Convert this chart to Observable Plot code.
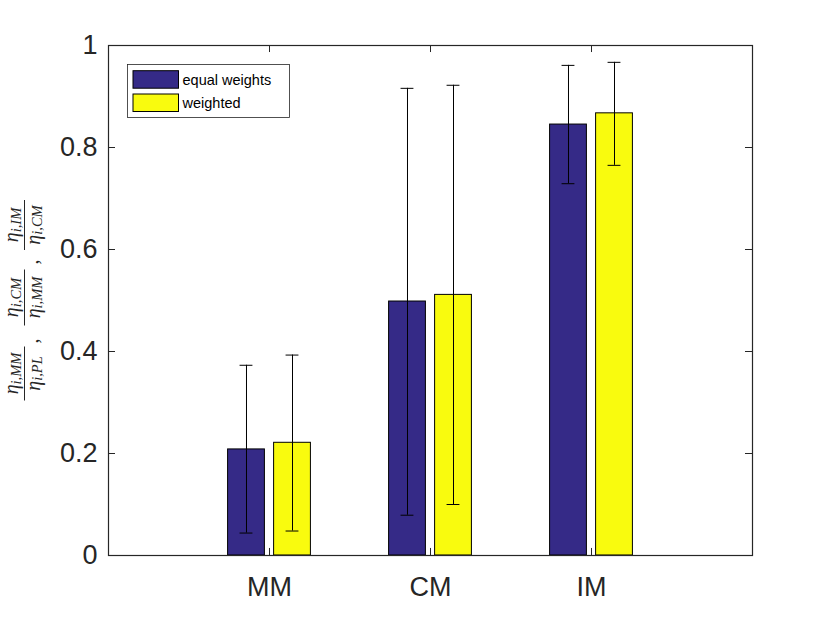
<!DOCTYPE html>
<html>
<head>
<meta charset="utf-8">
<script src="https://cdn.jsdelivr.net/npm/d3@7"></script>
<script src="https://cdn.jsdelivr.net/npm/@observablehq/plot@0.6"></script>
<style>
  html, body { margin: 0; padding: 0; background: #fff; }
</style>
</head>
<body>
<div id="chart"></div>
<script>
const categories = ["MM", "CM", "IM"];
const seriesNames = ["equal weights", "weighted"];
const seriesColors = ["#352a87", "#f9fb0e"];
const equalMean = [0.208, 0.498, 0.845];
const equalLow = [0.044, 0.079, 0.729];
const equalHigh = [0.373, 0.916, 0.961];
const weightedMean = [0.221, 0.511, 0.867];
const weightedLow = [0.048, 0.100, 0.765];
const weightedHigh = [0.393, 0.922, 0.967];
const yTicks = [0, 0.2, 0.4, 0.6, 0.8, 1];
const xDomain = [0, 4];

const groupOffset = 0.1429, barHalf = 0.1143, capHalf = 0.04;
const rows = [];
categories.forEach((c, i) => {
  [[equalMean, equalLow, equalHigh], [weightedMean, weightedLow, weightedHigh]].forEach(([m, lo, hi], s) => {
    rows.push({
      category: c,
      series: seriesNames[s],
      color: seriesColors[s],
      pos: i + 1 + (s === 0 ? -groupOffset : groupOffset),
      mean: m[i], low: lo[i], high: hi[i]
    });
  });
});
const catPos = categories.map((c, i) => i + 1);
const ink = "#262626";

const svg = Plot.plot({
  width: 830,
  height: 623,
  marginLeft: 108,
  marginRight: 78,
  marginTop: 45,
  marginBottom: 68,
  style: { fontFamily: "'Liberation Sans', Arial, sans-serif", fontSize: "27px", color: ink, background: "#fff" },
  x: { type: "linear", domain: xDomain },
  y: { domain: [0, 1] },
  color: { type: "identity" },
  marks: [
    Plot.rectY(rows, { x1: d => d.pos - barHalf, x2: d => d.pos + barHalf, y1: 0, y2: "mean", fill: "color", stroke: "#000", strokeWidth: 1 }),
    Plot.ruleX(rows, { x: "pos", y1: "low", y2: "high", stroke: "#000", strokeWidth: 1 }),
    Plot.ruleY(rows, { y: "low", x1: d => d.pos - capHalf, x2: d => d.pos + capHalf, stroke: "#000", strokeWidth: 1 }),
    Plot.ruleY(rows, { y: "high", x1: d => d.pos - capHalf, x2: d => d.pos + capHalf, stroke: "#000", strokeWidth: 1 }),
    Plot.ruleY(yTicks, { y: d => d, x1: xDomain[0], x2: xDomain[0] + 0.0435, stroke: ink }),
    Plot.ruleY(yTicks, { y: d => d, x1: xDomain[1] - 0.0435, x2: xDomain[1], stroke: ink }),
    Plot.ruleX(catPos, { x: d => d, y1: 0, y2: 0.0138, stroke: ink }),
    Plot.ruleX(catPos, { x: d => d, y1: 1 - 0.0138, y2: 1, stroke: ink }),
    Plot.frame({ stroke: ink, strokeWidth: 1.2 }),
    Plot.axisY({ ticks: yTicks, tickSize: 0, tickPadding: 11, tickFormat: d => String(d), label: null, fill: ink }),
    Plot.axisX({ ticks: catPos, tickSize: 0, tickPadding: 21, tickFormat: d => categories[d - 1], label: null, fill: ink })
  ]
});
document.getElementById("chart").appendChild(svg);

const root = d3.select(svg);

// Y-axis label: three fractions, rotated
const fracs = [
  { num: "i,MM", den: "i,PL", cx: -73.5, w: 54 },
  { num: "i,CM", den: "i,MM", cx: 2.5, w: 56 },
  { num: "i,IM", den: "i,CM", cx: 75, w: 50 }
];
const lab = root.append("g")
  .attr("transform", "translate(0,300) rotate(-90)")
  .attr("font-family", "'Liberation Serif', 'DejaVu Serif', serif")
  .attr("font-style", "italic")
  .attr("text-anchor", "middle")
  .attr("fill", ink);
fracs.forEach(f => {
  const n = lab.append("text").attr("x", f.cx).attr("y", 18);
  n.append("tspan").attr("font-size", 20).text("η");
  n.append("tspan").attr("font-size", 14.5).attr("dy", 2.5).text(f.num);
  lab.append("line").attr("x1", f.cx - f.w / 2).attr("x2", f.cx + f.w / 2)
    .attr("y1", 24.5).attr("y2", 24.5).attr("stroke", ink).attr("stroke-width", 1);
  const d = lab.append("text").attr("x", f.cx).attr("y", 39.5);
  d.append("tspan").attr("font-size", 20).text("η");
  d.append("tspan").attr("font-size", 14.5).attr("dy", 2.5).text(f.den);
});
[-41, 38].forEach(x => {
  lab.append("text").attr("x", x).attr("y", 38).attr("font-size", 20).attr("font-style", "normal").text(",");
});

// Legend (inside axes, top-left)
const leg = root.append("g").attr("font-family", "'Liberation Sans', Arial, sans-serif").attr("text-anchor", "start");
leg.append("rect").attr("x", 127.5).attr("y", 64.5).attr("width", 162).attr("height", 53)
  .attr("fill", "#fff").attr("stroke", ink).attr("stroke-width", 0.8);
seriesNames.forEach((name, i) => {
  const y0 = 70.7 + i * 23.3;
  leg.append("rect").attr("x", 133).attr("y", y0).attr("width", 45.5).attr("height", 17.5)
    .attr("fill", seriesColors[i]).attr("stroke", "#000").attr("stroke-width", 1);
  leg.append("text").attr("x", 182.5).attr("y", y0 + 8.8).attr("dy", "0.35em")
    .attr("font-size", 14.5).attr("fill", "#000").text(name);
});
</script>
</body>
</html>
